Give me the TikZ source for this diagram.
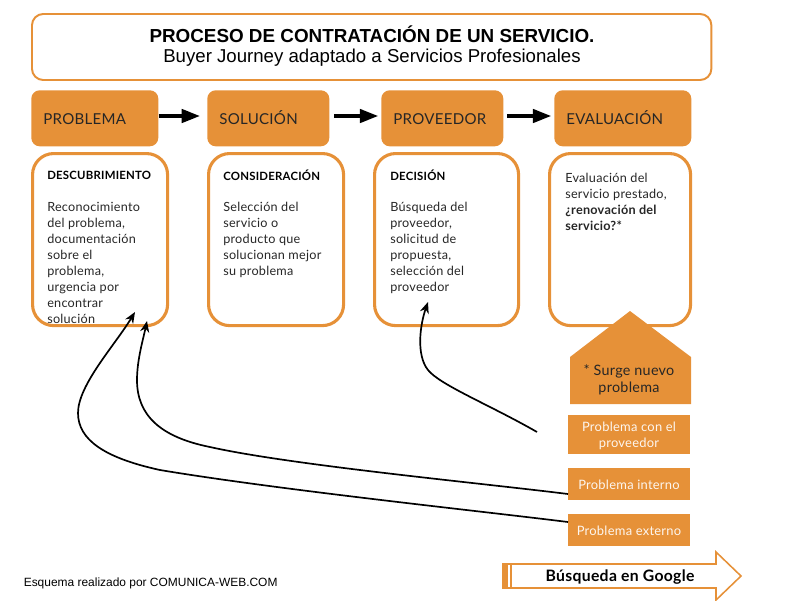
\documentclass[tikz,border=0pt]{standalone}
\usepackage{fontspec}
\setmainfont{Lato}[LetterSpace=2]
\newfontfamily\titlefont{Liberation Sans}
\usetikzlibrary{arrows.meta}
\definecolor{naranja}{HTML}{E69138}
\tikzset{
  header/.style={fill=naranja,rounded corners=6pt,minimum height=1.4cm,anchor=north west},
  headtext/.style={anchor=base west,inner sep=0pt,font=\fontsize{10.7}{13}\selectfont,text=black!85},
  cuerpo/.style={draw=naranja,line width=2.2pt,rounded corners=15pt,minimum height=4.3cm,anchor=north west},
  bodytext/.style={anchor=north west,inner sep=0pt,align=left,font=\fontsize{9}{11.4}\selectfont,text=black!85},
  bodyhead/.style={anchor=west,inner sep=0pt,font=\fontsize{8.1}{10}\bfseries\selectfont},
  tarjeta/.style={fill=naranja,minimum width=3.05cm,anchor=north west,inner sep=0pt},
  tarjetatext/.style={align=center,inner sep=0pt,text=white!92!naranja,font=\fontsize{9.2}{11.4}\selectfont},
  paso/.style={line width=2.4pt,-{Triangle[length=13pt,width=9.5pt]}},
  curva/.style={line width=1.2pt,-{Stealth[length=8pt,width=6.5pt]}}
}
\begin{document}
\begin{tikzpicture}[x=0.025cm,y=-0.025cm]
  \useasboundingbox (0,0) rectangle (800,600);

  % titulo
  \node[draw=naranja,line width=1.4pt,rounded corners=8pt,minimum width=16.98cm,minimum height=1.65cm,anchor=north west] (titulo) at (31,13) {};
  \node[inner sep=0pt,font=\titlefont\fontsize{13.4}{15}\bfseries\selectfont] (tituloa) at (372,34.5) {PROCESO DE CONTRATACIÓN DE UN SERVICIO.};
  \node[inner sep=0pt,font=\titlefont\fontsize{13.25}{15}\selectfont] (titulob) at (372,58) {Buyer Journey adaptado a Servicios Profesionales};

  % cabeceras
  \node[header,minimum width=3.175cm] (problema) at (31,90) {};
  \node[header,minimum width=3.05cm] (solucion) at (207,90) {};
  \node[header,minimum width=3.05cm] (proveedor) at (381,90) {};
  \node[header,minimum width=3.425cm] (evaluacion) at (554,90) {};
  \node[headtext] (tproblema) at (43,124) {PROBLEMA};
  \node[headtext] (tsolucion) at (219,124) {SOLUCIÓN};
  \node[headtext] (tproveedor) at (393,124) {PROVEEDOR};
  \node[headtext] (tevaluacion) at (566,124) {EVALUACIÓN};

  \draw[paso,shorten >=5pt] (problema.east |- 0,116) -- (solucion.west |- 0,116);
  \draw[paso,shorten >=2pt] (334,116) -- (proveedor.west |- 0,116);
  \draw[paso,shorten >=2pt] (507,116) -- (evaluacion.west |- 0,116);

  % cuerpos
  \node[cuerpo,minimum width=3.375cm] (descubrimiento) at (31,152) {};
  \node[cuerpo,minimum width=3.375cm] (consideracion) at (207,152) {};
  \node[cuerpo,minimum width=3.6cm] (decision) at (373,152) {};
  \node[cuerpo,minimum width=3.525cm] (servicio) at (548,152) {};

  \node[bodyhead] (hdesc) at (47,175) {DESCUBRIMIENTO};
  \node[bodyhead] (hcons) at (223,175) {CONSIDERACIÓN};
  \node[bodyhead] (hdeci) at (390,175) {DECISIÓN};

  \node[bodytext] (tdesc) at (47,202) {Reconocimiento\\del problema,\\documentación\\sobre el\\problema,\\urgencia por\\encontrar\\solución};
  \node[bodytext] (tcons) at (223,202) {Selección del\\servicio o\\producto que\\solucionan mejor\\su problema};
  \node[bodytext] (tdeci) at (390,202) {Búsqueda del\\proveedor,\\solicitud de\\propuesta,\\selección del\\proveedor};
  \node[bodytext] (tserv) at (565,172.5) {Evaluación del\\servicio prestado,\\\textbf{¿renovación del}\\\textbf{servicio?*}};

  % nuevo problema
  \fill[naranja] (630,311) -- (691,357) -- (691,404) -- (570,404) -- (570,357) -- cycle;
  \node[inner sep=0pt,align=center,font=\fontsize{10.2}{12.5}\selectfont,text=black!85] (surge) at (629,380) {* Surge nuevo\\problema};

  \node[tarjeta,minimum height=0.975cm] (pproveedor) at (568,415) {};
  \node[tarjeta,minimum height=0.8cm] (pinterno) at (568,468) {};
  \node[tarjeta,minimum height=0.8cm] (pexterno) at (568,514) {};
  \node[tarjetatext] (tpproveedor) at (629,436) {Problema con el\\proveedor};
  \node[tarjetatext] (tpinterno) at (629,485) {Problema interno};
  \node[tarjetatext] (tpexterno) at (629,531) {Problema externo};

  % flechas curvas
  \coordinate (inicio) at (537,432);
  \coordinate (fdecision) at (428,302);
  \coordinate (fdesca) at (147,321);
  \coordinate (fdescb) at (135,312);
  \draw[curva] (inicio) .. controls (490,405) and (440,385) .. (428,370) .. controls (416,355) and (420,325) .. (fdecision);
  \draw[curva] (pinterno.west |- 0,494) .. controls (480,483) and (290,465) .. (210,447) .. controls (160,437) and (137,415) .. (137,380) .. controls (137,360) and (143,340) .. (fdesca);
  \draw[curva] (pexterno.west |- 0,522) .. controls (480,511) and (280,490) .. (160,470) .. controls (105,458) and (78,440) .. (78,413) .. controls (78,385) and (115,345) .. (fdescb);

  % google
  \draw[draw=naranja,line width=1.1pt,fill=white] (503,564) -- (716,564) -- (716,552) -- (741,576) -- (716,600) -- (716,588) -- (503,588) -- cycle;
  \fill[naranja] (503,564) rectangle (508,588);
  \draw[naranja,line width=1.1pt] (511,564) -- (511,588);
  \node[inner sep=0pt,font=\fontsize{11.2}{13}\bfseries\selectfont] (google) at (620,577) {Búsqueda en Google};

  \node[anchor=west,inner sep=0pt,font=\titlefont\fontsize{8.5}{10}\selectfont] (pie) at (23.5,583.5) {Esquema realizado por COMUNICA-WEB.COM};
\end{tikzpicture}
\end{document}
